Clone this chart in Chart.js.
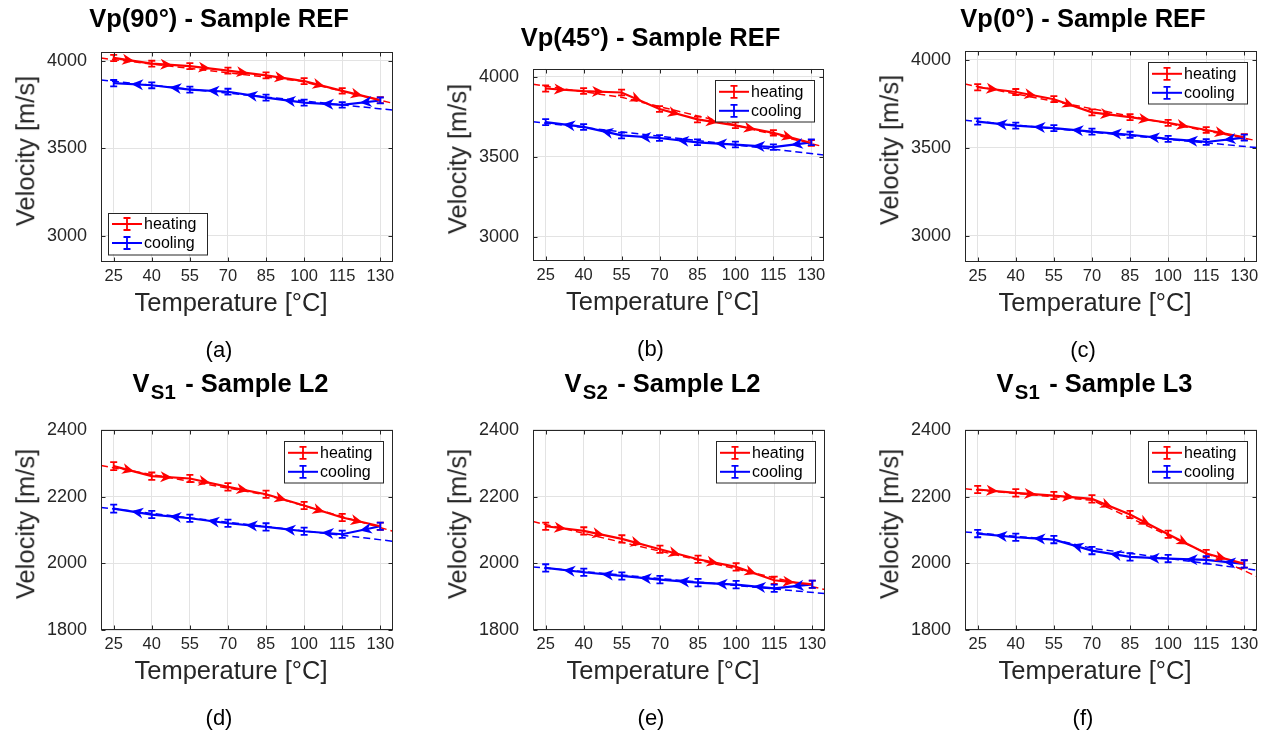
<!DOCTYPE html>
<html>
<head>
<meta charset="utf-8">
<script src="https://cdn.jsdelivr.net/npm/chart.js@4.4.0/dist/chart.umd.min.js"></script>
<style>
  body { margin: 0; background: #fff; width: 1265px; height: 732px; position: relative; overflow: hidden;
         font-family: "Liberation Sans", Arial, Helvetica, sans-serif; }
  .panel { position: absolute; }
  .txt { position: absolute; transform: translate(-50%, -50%); line-height: 1; white-space: nowrap; color: #262626; }
  .title { font-weight: bold; font-size: 25.5px; color: #000; }
  .title sub { font-size: 0.8em; vertical-align: baseline; position: relative; top: 0.33em; margin: 0 0.12em 0 0.06em; }
  .xlab { font-size: 25.5px; }
  .ylab { font-size: 25.5px; transform: translate(-50%, -50%) rotate(-90deg); }
  .cap { font-size: 22px; color: #000; }
</style>
</head>
<body>
<script>
// temperatures (x) and axis ticks
const temps = [25, 40, 55, 70, 85, 100, 115, 130];
const xTicks = [25, 40, 55, 70, 85, 100, 115, 130];
const xRange = [20, 135];
const yTicksTop = [3000, 3500, 4000];
const yRangeTop = [2850, 4050];
const yTicksBottom = [1800, 2000, 2200, 2400];
const yRangeBottom = [1800, 2400];

const titles = ['Vp(90°) - Sample REF', 'Vp(45°) - Sample REF', 'Vp(0°) - Sample REF',
                'V<sub>S1</sub> - Sample L2', 'V<sub>S2</sub> - Sample L2', 'V<sub>S1</sub> - Sample L3'];
const captions = ['(a)', '(b)', '(c)', '(d)', '(e)', '(f)'];
const xTitle = 'Temperature [°C]';
const yTitle = 'Velocity [m/s]';
const seriesNames = ['heating', 'cooling'];

// velocities [m/s]
const heatA = [4015, 3982, 3968, 3943, 3915, 3883, 3827, 3774];
const coolA = [3871, 3859, 3834, 3822, 3788, 3760, 3747, 3772];
const errA  = [18, 17, 17, 17, 17, 17, 16, 17];
const fitHeatA = [[20, 4014], [98, 3884], [135, 3756]];
const fitCoolA = [[20, 3889], [135, 3717]];

const heatB = [3927, 3911, 3902, 3799, 3734, 3697, 3650, 3587];
const coolB = [3717, 3687, 3634, 3618, 3591, 3577, 3561, 3591];
const errB  = [19, 18, 18, 18, 18, 18, 17, 18];
const fitHeatB = [[20, 3953], [55, 3872], [135, 3563]];
const fitCoolB = [[20, 3720], [135, 3512]];

const heatC = [3843, 3816, 3775, 3700, 3673, 3641, 3600, 3559];
const coolC = [3648, 3625, 3611, 3591, 3573, 3550, 3532, 3557];
const errC  = [18, 17, 17, 17, 17, 17, 16, 17];
const fitHeatC = [[20, 3861], [135, 3539]];
const fitCoolC = [[20, 3655], [135, 3500]];

const heatD = [2291, 2261, 2254, 2229, 2207, 2173, 2137, 2111];
const coolD = [2164, 2146, 2135, 2120, 2109, 2096, 2087, 2111];
const errD  = [12, 11, 11, 11, 11, 11, 11, 11];
const fitHeatD = [[20, 2293], [85, 2205], [135, 2096]];
const fitCoolD = [[20, 2167], [135, 2066]];

const heatE = [2111, 2097, 2073, 2042, 2012, 1989, 1949, 1937];
const coolE = [1986, 1973, 1962, 1951, 1942, 1936, 1925, 1937];
const errE  = [11, 11, 11, 11, 11, 11, 11, 11];
const fitHeatE = [[20, 2125], [135, 1921]];
const fitCoolE = [[20, 1989], [135, 1909]];

const heatF = [2221, 2211, 2203, 2193, 2146, 2087, 2029, 1998];
const coolF = [2089, 2078, 2071, 2038, 2019, 2014, 2010, 1998];
const errF  = [11, 11, 11, 11, 11, 11, 11, 11];
const fitHeatF = [[20, 2223], [70, 2189], [135, 1960]];
const fitCoolF = [[20, 2094], [55, 2071], [70, 2045], [135, 1979]];

const panels = [
  { heat: heatA, cool: coolA, err: errA, fitHeat: fitHeatA, fitCool: fitCoolA, top: true },
  { heat: heatB, cool: coolB, err: errB, fitHeat: fitHeatB, fitCool: fitCoolB, top: true },
  { heat: heatC, cool: coolC, err: errC, fitHeat: fitHeatC, fitCool: fitCoolC, top: true },
  { heat: heatD, cool: coolD, err: errD, fitHeat: fitHeatD, fitCool: fitCoolD, top: false },
  { heat: heatE, cool: coolE, err: errE, fitHeat: fitHeatE, fitCool: fitCoolE, top: false },
  { heat: heatF, cool: coolF, err: errF, fitHeat: fitHeatF, fitCool: fitCoolF, top: false }
];

// plot-box placement on the page
const boxes = [
  { left: 101, top: 39,  w: 292, h: 223, legend: 'sw', titleY: 18.5, titleDx: -28 },
  { left: 533, top: 56,  w: 291, h: 205, legend: 'ne', titleY: 38,   titleDx: -28 },
  { left: 965, top: 38,  w: 292, h: 224, legend: 'ne', titleY: 18.5, titleDx: -28 },
  { left: 101, top: 417, w: 292, h: 213, legend: 'ne', titleY: 384,  titleDx: -16.5 },
  { left: 533, top: 417, w: 292, h: 213, legend: 'ne', titleY: 384,  titleDx: -16.5 },
  { left: 965, top: 417, w: 292, h: 213, legend: 'ne', titleY: 384,  titleDx: -16.5 }
];

const FONT = '"Liberation Sans", Arial, Helvetica, sans-serif';
const RED = '#ff0000', BLUE = '#0000ff', AXIS = '#262626', GRID = '#e3e3e3';
const AXW = 101, PADT = 12, PADR = 8, XAXH = 30;

const errorBars = {
  id: 'errorBars',
  afterDatasetsDraw(chart) {
    const ctx = chart.ctx, ys = chart.scales.y;
    chart.data.datasets.forEach((ds, i) => {
      if (!ds.err) return;
      const meta = chart.getDatasetMeta(i);
      ctx.save();
      ctx.strokeStyle = ds.borderColor;
      ctx.lineWidth = 1.8;
      meta.data.forEach((pt, j) => {
        const v = ds.data[j].y, e = ds.err[j];
        const yt = ys.getPixelForValue(v + e), yb = ys.getPixelForValue(v - e);
        ctx.beginPath();
        ctx.moveTo(pt.x, yt); ctx.lineTo(pt.x, yb);
        ctx.moveTo(pt.x - 3.5, yt); ctx.lineTo(pt.x + 3.5, yt);
        ctx.moveTo(pt.x - 3.5, yb); ctx.lineTo(pt.x + 3.5, yb);
        ctx.stroke();
      });
      ctx.restore();
    });
  }
};

const arrows = {
  id: 'arrows',
  afterDatasetsDraw(chart) {
    const ctx = chart.ctx;
    chart.data.datasets.forEach((ds, i) => {
      if (!ds.arrowDir) return;
      const pts = chart.getDatasetMeta(i).data;
      ctx.save();
      ctx.fillStyle = ds.borderColor;
      for (let j = 0; j < pts.length - 1; j++) {
        const a = pts[j], b = pts[j + 1];
        const mx = (a.x + b.x) / 2, my = (a.y + b.y) / 2;
        let ang = Math.atan2(b.y - a.y, b.x - a.x);
        if (ds.arrowDir < 0) ang += Math.PI;
        ctx.save();
        ctx.translate(mx, my);
        ctx.rotate(ang);
        ctx.beginPath();
        ctx.moveTo(1.5, 0);
        ctx.lineTo(-10.5, -5.5);
        ctx.lineTo(-7, 0);
        ctx.lineTo(-10.5, 5.5);
        ctx.closePath();
        ctx.fill();
        ctx.restore();
      }
      ctx.restore();
    });
  }
};

const frame = {
  id: 'frame',
  afterDraw(chart) {
    const { ctx, chartArea: ca } = chart;
    const xs = chart.scales.x, ys = chart.scales.y;
    ctx.save();
    ctx.strokeStyle = AXIS;
    ctx.lineWidth = 1;
    const l = Math.round(ca.left) + 0.5, r = Math.round(ca.right) - 0.5;
    const t = Math.round(ca.top) + 0.5, b = Math.round(ca.bottom) - 0.5;
    ctx.strokeRect(l, t, r - l, b - t);
    ctx.beginPath();
    xs.ticks.forEach(tk => {
      const px = Math.round(xs.getPixelForValue(tk.value)) + 0.5;
      ctx.moveTo(px, b); ctx.lineTo(px, b - 4);
      ctx.moveTo(px, t); ctx.lineTo(px, t + 4);
    });
    ys.ticks.forEach(tk => {
      const py = Math.round(ys.getPixelForValue(tk.value)) + 0.5;
      ctx.moveTo(l, py); ctx.lineTo(l + 4, py);
      ctx.moveTo(r, py); ctx.lineTo(r - 4, py);
    });
    ctx.stroke();
    ctx.restore();
  }
};

const boxLegend = {
  id: 'boxLegend',
  afterDraw(chart, args, opts) {
    const { ctx, chartArea: ca } = chart;
    const W = 99, H = 41.5;
    const x = opts.corner === 'sw' ? ca.left + 7 : ca.right - 10 - W;
    const y = opts.corner === 'sw' ? ca.bottom - 8 - H : ca.top + 11.5;
    ctx.save();
    ctx.fillStyle = '#fff';
    ctx.fillRect(x, y, W, H);
    ctx.strokeStyle = AXIS;
    ctx.lineWidth = 1;
    ctx.strokeRect(Math.round(x) + 0.5, Math.round(y) + 0.5, W, H);
    chart.data.datasets.slice(0, 2).forEach((ds, k) => {
      const ry = y + 11.5 + k * 19;
      const cx = x + 19;
      ctx.strokeStyle = ds.borderColor;
      ctx.lineWidth = 2;
      ctx.beginPath();
      ctx.moveTo(x + 4, ry); ctx.lineTo(x + 34, ry);
      ctx.stroke();
      ctx.lineWidth = 1.8;
      ctx.beginPath();
      ctx.moveTo(cx, ry - 6); ctx.lineTo(cx, ry + 6);
      ctx.moveTo(cx - 3.5, ry - 6); ctx.lineTo(cx + 3.5, ry - 6);
      ctx.moveTo(cx - 3.5, ry + 6); ctx.lineTo(cx + 3.5, ry + 6);
      ctx.stroke();
      ctx.fillStyle = '#000';
      ctx.font = '16px ' + FONT;
      ctx.textBaseline = 'middle';
      ctx.textAlign = 'left';
      ctx.fillText(ds.label, x + 36, ry + 0.5);
    });
    ctx.restore();
  }
};

function addText(cls, html, x, y) {
  const d = document.createElement('div');
  d.className = 'txt ' + cls;
  d.innerHTML = html;
  d.style.left = x + 'px';
  d.style.top = y + 'px';
  document.body.appendChild(d);
}

function toXY(vals) { return temps.map((t, i) => ({ x: t, y: vals[i] })); }
function pairsXY(pairs) { return pairs.map(p => ({ x: p[0], y: p[1] })); }

panels.forEach((p, idx) => {
  const bx = boxes[idx];
  const cw = bx.w + AXW + PADR, ch = bx.h + PADT + XAXH;
  const wrap = document.createElement('div');
  wrap.className = 'panel';
  wrap.style.left = (bx.left - AXW) + 'px';
  wrap.style.top = (bx.top - PADT) + 'px';
  const canvas = document.createElement('canvas');
  canvas.width = cw; canvas.height = ch;
  canvas.style.width = cw + 'px'; canvas.style.height = ch + 'px';
  wrap.appendChild(canvas);
  document.body.appendChild(wrap);

  const yTicks = p.top ? yTicksTop : yTicksBottom;
  const yRange = p.top ? yRangeTop : yRangeBottom;

  new Chart(canvas, {
    type: 'line',
    data: {
      datasets: [
        { label: seriesNames[0], data: toXY(p.heat), err: p.err, arrowDir: 1,
          borderColor: RED, borderWidth: 2.2, pointRadius: 0, tension: 0 },
        { label: seriesNames[1], data: toXY(p.cool), err: p.err, arrowDir: -1,
          borderColor: BLUE, borderWidth: 2.2, pointRadius: 0, tension: 0 },
        { label: 'heating fit', data: pairsXY(p.fitHeat), borderColor: RED, borderWidth: 1.5,
          borderDash: [7, 4], pointRadius: 0, tension: 0 },
        { label: 'cooling fit', data: pairsXY(p.fitCool), borderColor: BLUE, borderWidth: 1.5,
          borderDash: [7, 4], pointRadius: 0, tension: 0 }
      ]
    },
    options: {
      responsive: false,
      animation: false,
      devicePixelRatio: 1,
      layout: { padding: { left: 0, top: PADT, right: PADR, bottom: 0 } },
      plugins: {
        legend: { display: false },
        tooltip: { enabled: false },
        boxLegend: { corner: bx.legend }
      },
      scales: {
        x: {
          type: 'linear',
          min: xRange[0], max: xRange[1],
          afterBuildTicks: s => { s.ticks = xTicks.map(v => ({ value: v })); },
          afterFit: s => { s.height = XAXH; },
          grid: { color: GRID, drawTicks: false },
          border: { display: false },
          ticks: { font: { family: FONT, size: 16.5 }, color: AXIS, padding: 5,
                   autoSkip: false, maxRotation: 0, callback: v => String(v) }
        },
        y: {
          type: 'linear',
          min: yRange[0], max: yRange[1],
          afterBuildTicks: s => { s.ticks = yTicks.map(v => ({ value: v })); },
          afterFit: s => { s.width = AXW; },
          grid: { color: GRID, drawTicks: false },
          border: { display: false },
          ticks: { font: { family: FONT, size: 18 }, color: AXIS, padding: 14,
                   autoSkip: false, callback: v => String(v) }
        }
      }
    },
    plugins: [errorBars, arrows, frame, boxLegend]
  });

  const cx = bx.left + bx.w / 2;
  const cy = bx.top + bx.h / 2;
  const bottom = bx.top + bx.h;
  addText('title', titles[idx], cx + bx.titleDx, bx.titleY);
  addText('xlab', xTitle, cx - 16, bottom + 41);
  addText('ylab', yTitle, bx.left - 75, cy);
  addText('cap', captions[idx], cx - 28, bottom + 88);
});
</script>
</body>
</html>
